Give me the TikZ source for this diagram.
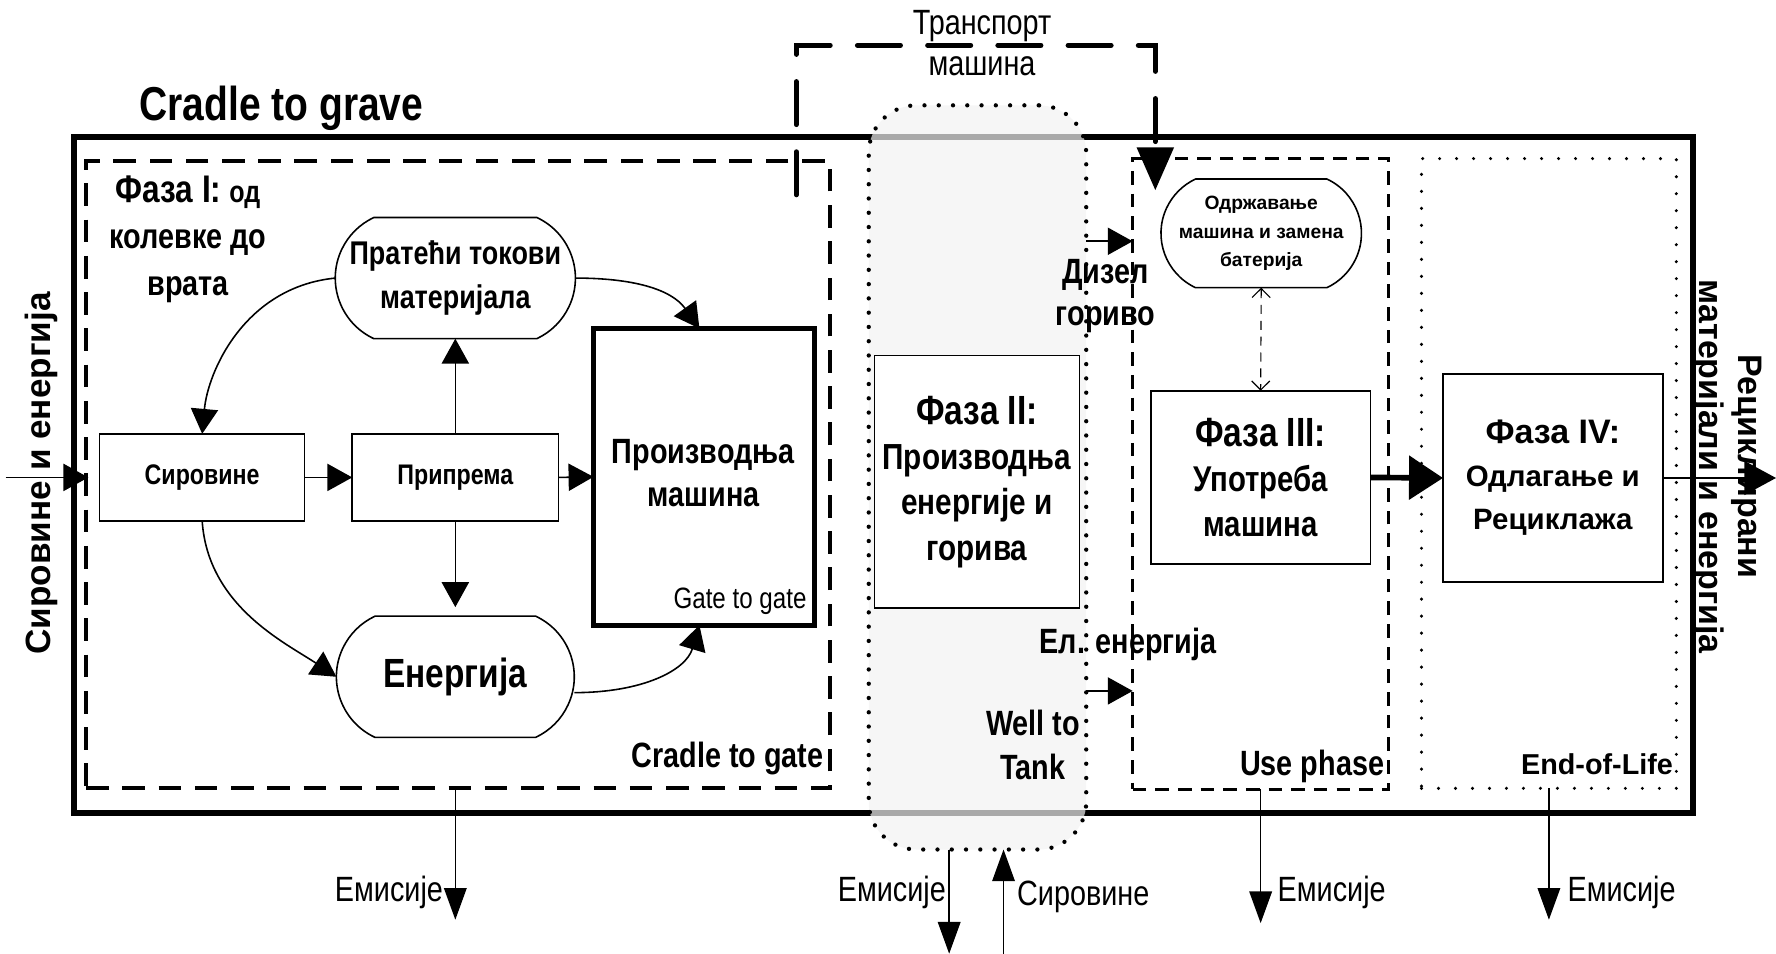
\documentclass[tikz,border=0pt]{standalone}
\usepackage{fontspec}
\setmainfont{Liberation Sans}
\newfontfamily\cond[FakeStretch=0.82]{Liberation Sans}
\usetikzlibrary{arrows.meta,shapes.misc,calc}
\newcommand{\fsz}[2]{\fontsize{#1pt}{#2pt}\selectfont}
\begin{document}
\begin{tikzpicture}[x=0.5pt,y=-0.5pt,
  every node/.style={inner sep=0pt,outer sep=0pt},
  box/.style={draw,line width=0.7pt,fill=white},
  pill/.style={box,rounded rectangle,rounded rectangle arc length=130},
  flow/.style={line width=0.7pt,-{Triangle[length=11pt,width=12pt]}},
  emit/.style={line width=0.6pt,-{Triangle[length=14pt,width=10pt]}},
  lbl/.style={font=\cond\fsz{15.5}{18}},
]
\useasboundingbox (0,0) rectangle (1568,842);

% outer life-cycle frame
\node[draw,line width=2.6pt,minimum width=715pt,minimum height=298.5pt] (frame) at (780,419.5) {};
\node[font=\cond\bfseries\fsz{21}{24},anchor=base west] (grave) at (123,106) {Cradle to grave};

% phase frames
\node[draw,line width=1.7pt,dash pattern=on 10pt off 6pt,minimum width=328.5pt,minimum height=277pt] (ph1) at (404.5,419) {};
\node[draw,line width=1.5pt,dash pattern=on 6pt off 4pt,minimum width=113pt,minimum height=278.5pt] (ph3) at (1113,418.5) {};
\node[draw,line width=1.5pt,dash pattern=on 0pt off 7.5pt,line cap=round,minimum width=112.5pt,minimum height=278pt] (ph4) at (1367.5,418) {};

% machine transport
\coordinate (tr1) at (703,172);
\coordinate (tr2) at (703,40);
\coordinate (tr3) at (1020,40);
\coordinate (tr4) at (1020,168);
\draw[line width=2.2pt,line cap=round,dash pattern=on 19pt off 12pt,-{Triangle[length=19pt,width=16pt]}] (tr1) -- (tr2) -- (tr3) -- (tr4);
\node[font=\cond\fsz{15.5}{18.5},align=center] (trT) at (867,38) {Транспорт\\машина};

% well-to-tank capsule
\node[draw,fill=gray!10,fill opacity=0.7,line width=1.9pt,dash pattern=on 0pt off 6.3pt,line cap=round,rounded corners=21pt,minimum width=96pt,minimum height=328.5pt] (cap) at (863,421.5) {};

% phase I: cradle to gate
\node[font=\cond\bfseries\fsz{15.5}{20.5},align=center,anchor=north] (ph1T) at (166,155) {{\fsz{17}{20.5}Фаза I:} {\fsz{13.5}{20.5}од}\\колевке до\\врата};
\node[pill,minimum width=106pt,minimum height=53.5pt] (prat) at (402,245.5) {};
\node[font=\cond\bfseries\fsz{14.5}{19.5},align=center] (pratT) at (prat) {Пратећи токови\\материјала};
\node[box,minimum width=90.5pt,minimum height=38.5pt,font=\cond\bfseries\fsz{12.5}{15}] (sir) at (178.5,421.5) {Сировине};
\node[box,minimum width=91pt,minimum height=38.5pt,font=\cond\bfseries\fsz{12.5}{15}] (pri) at (402,421.5) {Припрема};
\node[box,line width=2.3pt,minimum width=97.5pt,minimum height=131pt] (prod) at (621.5,421) {};
\node[font=\cond\bfseries\fsz{15.5}{19},align=center] (prodT) at (621,418) {Производња\\машина};
\node[font=\cond\fsz{13}{15},anchor=base east] (g2g) at (712,537) {Gate to gate};
\node[pill,minimum width=105pt,minimum height=53.5pt] (en) at (402,597.5) {};
\node[font=\cond\bfseries\fsz{18}{20}] (enT) at (en) {Енергија};
\node[font=\cond\bfseries\fsz{15.5}{18},anchor=base east] (c2g) at (727,678) {Cradle to gate};

\coordinate (inL) at (5,421.5);
\draw[flow,shorten >=5pt] (inL) -- (sir.west);
\draw[flow] (sir.east) -- (pri.west);
\draw[flow] (pri.east) -- (prod.west);
\draw[flow] (pri.north) -- (prat.south);
\draw[flow,shorten >=4pt] (pri.south) -- (en.north);
\draw[flow] (prat.west) .. controls +(-80,8) and +(5,-55) .. (sir.north);
\draw[flow] (prat.east) .. controls +(50,0) and +(-25,-35) .. ([xshift=-2pt]prod.north);
\draw[flow] (sir.south) .. controls +(5,75) and +(-45,-30) .. (en.west);
\draw[flow] ([yshift=-7pt]en.east) .. controls +(60,0) and +(-12,40) .. ([xshift=-2pt]prod.south);

% phase II
\node[box,minimum width=90.5pt,minimum height=111.5pt,align=center,font=\cond\bfseries\fsz{16}{20}] (p2) at (862.5,425.5) {{\fsz{18}{20}Фаза II:}\\Производња\\енергије и\\горива};
\node[font=\cond\bfseries\fsz{15.5}{18.5},align=center] (dz) at (976,261) {Дизел\\гориво};
\node[font=\cond\bfseries\fsz{15.5}{18},anchor=base west] (el) at (918,577) {Ел. енергија};
\node[font=\cond\bfseries\fsz{15.5}{19.5},align=center] (w2t) at (912,658) {Well to\\Tank};
\coordinate (dzA) at (0,213);
\coordinate (elA) at (0,610);
\draw[flow] (cap.east |- dzA) -- (ph3.west |- dzA);
\draw[flow] (cap.east |- elA) -- (ph3.west |- elA);

% phase III
\node[pill,minimum width=88.5pt,minimum height=48pt] (odr) at (1113.5,206) {};
\node[font=\bfseries\fsz{8.5}{12.5},align=center] (odrT) at (odr) {Одржавање\\машина и замена\\батерија};
\node[box,minimum width=97pt,minimum height=76.5pt,align=center,font=\cond\bfseries\fsz{15.8}{20}] (p3) at (1113,421.5) {{\fsz{18}{20}Фаза III:}\\Употреба\\машина};
\draw[line width=0.5pt,dash pattern=on 4pt off 3pt,{Straight Barb[length=4pt,width=8pt]}-{Straight Barb[length=4pt,width=8pt]}] (odr.south) -- (p3.north);
\node[font=\cond\bfseries\fsz{15.5}{18},anchor=base east] (use) at (1222,685) {Use phase};

% phase IV
\node[box,minimum width=97pt,minimum height=92pt,align=center,font=\bfseries\fsz{13}{19}] (p4) at (1371,422) {{\fsz{15}{19}Фаза IV:}\\Одлагање и\\Рециклажа};
\node[font=\bfseries\fsz{12.7}{15},anchor=base east] (eol) at (1477,684) {End-of-Life};
\draw[line width=2.5pt,-{Triangle[length=15pt,width=19pt]}] (p3.east) -- (p4.west);
\coordinate (outR) at (1568,422);
\draw[line width=0.7pt,-{Triangle[length=14pt,width=15pt]}] (p4.east) -- (outR);
\node[font=\bfseries\fsz{15}{17},align=center,rotate=-90] (recT) at (1525,412) {Рециклирани\\материјали и енергија};
\node[font=\bfseries\fsz{15.5}{17},rotate=90] (inT) at (37,418) {Сировине и енергија};

% emissions and raw materials
\coordinate (e1) at (402,812);
\draw[emit] (pri.south |- ph1.south) -- (e1);
\node[lbl,anchor=base east] (e1T) at (391,796) {Емисије};
\coordinate (e2) at (838,842);
\draw[emit] ([xshift=-12.5pt]cap.south) -- (e2);
\node[lbl,anchor=base east] (e2T) at (835,796) {Емисије};
\coordinate (r2) at (886,842);
\draw[emit] (r2) -- ([xshift=11.5pt]cap.south);
\node[lbl,anchor=base west] (r2T) at (898,799) {Сировине};
\coordinate (e3) at (1113,815);
\draw[emit] (ph3.south) -- (e3);
\node[lbl,anchor=base west] (e3T) at (1128,796) {Емисије};
\coordinate (e4) at (1367.5,812);
\draw[emit] (ph4.south) -- (e4);
\node[lbl,anchor=base west] (e4T) at (1384,796) {Емисије};
\end{tikzpicture}
\end{document}
